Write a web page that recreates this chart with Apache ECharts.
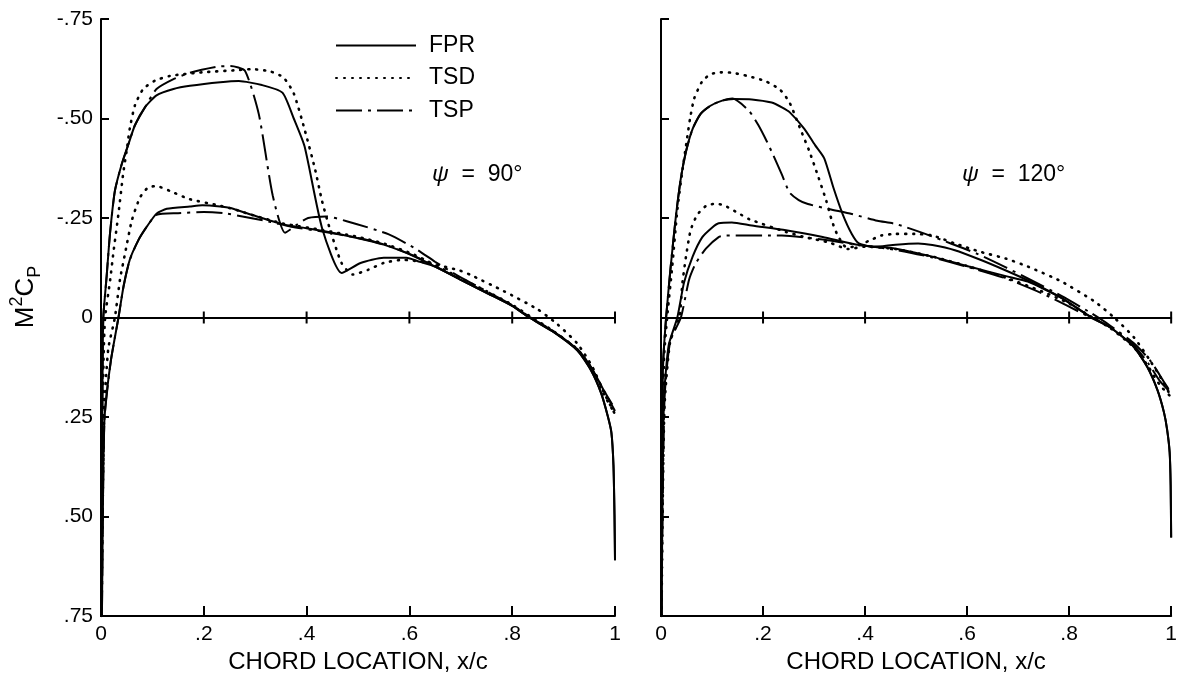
<!DOCTYPE html>
<html>
<head>
<meta charset="utf-8">
<script src="https://cdn.jsdelivr.net/npm/echarts@6/dist/echarts.min.js"></script>
<style>
  html, body { margin: 0; padding: 0; background: #fff; }
  #chart { width: 1180px; height: 679px; }
</style>
</head>
<body>
<div id="chart"></div>
<script>
// Tick values and their printed labels
const xTickValues = [0, 0.2, 0.4, 0.6, 0.8, 1];
const xTickLabels = ['0', '.2', '.4', '.6', '.8', '1'];
const yTickValues = [-0.75, -0.5, -0.25, 0, 0.25, 0.5, 0.75];
const yTickLabels = ['-.75', '-.50', '-.25', '0', '.25', '.50', '.75'];
const zeroLineTicks = [0.2, 0.4, 0.6, 0.8, 1];

const methods = ['FPR', 'TSD', 'TSP'];
const panelTitles = ['90°', '120°'];

// ψ = 90°  — pairs of [x/c, M²Cp]
const fpr90Upper = [
  [0.001, 0.75], [0.002, 0.40], [0.003, 0.15], [0.0045, 0], [0.011, -0.104], [0.0175, -0.211],
  [0.027, -0.318], [0.040, -0.384], [0.053, -0.434], [0.066, -0.483], [0.086, -0.529],
  [0.108, -0.558], [0.141, -0.574], [0.173, -0.582], [0.232, -0.591], [0.268, -0.594],
  [0.313, -0.584], [0.353, -0.565], [0.375, -0.50], [0.396, -0.43], [0.43, -0.225],
  [0.468, -0.112], [0.505, -0.137], [0.55, -0.15], [0.594, -0.15], [0.62, -0.14],
  [0.65, -0.128], [0.698, -0.096], [0.75, -0.062], [0.80, -0.029], [0.833, 0],
  [0.881, 0.037], [0.927, 0.083], [0.953, 0.132], [0.973, 0.19], [0.986, 0.248],
  [0.993, 0.289], [0.997, 0.371], [0.999, 0.495], [1.0, 0.61]
];
const fpr90Lower = [
  [0.001, 0.75], [0.002, 0.72], [0.004, 0.44], [0.007, 0.25], [0.019, 0.11], [0.034, 0],
  [0.044, -0.079], [0.056, -0.145], [0.073, -0.195], [0.089, -0.228], [0.108, -0.261],
  [0.128, -0.273], [0.173, -0.279], [0.197, -0.282], [0.232, -0.279], [0.252, -0.275],
  [0.293, -0.258], [0.355, -0.234], [0.43, -0.218], [0.498, -0.2], [0.55, -0.183],
  [0.609, -0.154], [0.65, -0.128], [0.698, -0.096], [0.75, -0.062], [0.80, -0.029],
  [0.833, 0], [0.881, 0.037], [0.927, 0.083], [0.953, 0.132], [0.973, 0.19],
  [0.986, 0.248], [0.993, 0.289], [0.997, 0.371], [0.999, 0.495], [1.0, 0.61]
];
const tsd90Upper = [
  [0.001, 0.75], [0.003, 0.30], [0.005, 0.10], [0.008, 0], [0.018, -0.096], [0.024, -0.162],
  [0.034, -0.261], [0.043, -0.36], [0.050, -0.42], [0.056, -0.475], [0.066, -0.533],
  [0.082, -0.574], [0.105, -0.595], [0.134, -0.607], [0.197, -0.616], [0.259, -0.621],
  [0.293, -0.624], [0.33, -0.618], [0.355, -0.603], [0.375, -0.563], [0.396, -0.473],
  [0.416, -0.375], [0.43, -0.293], [0.444, -0.228], [0.468, -0.137], [0.49, -0.108],
  [0.52, -0.12], [0.55, -0.137], [0.587, -0.145], [0.624, -0.14], [0.65, -0.133],
  [0.698, -0.118], [0.719, -0.107], [0.784, -0.066], [0.849, -0.021], [0.888, 0.017],
  [0.927, 0.066], [0.956, 0.124], [0.979, 0.19], [1.0, 0.243]
];
const tsd90Lower = [
  [0.001, 0.75], [0.003, 0.5], [0.006, 0.25], [0.014, 0.08], [0.027, 0], [0.037, -0.096],
  [0.047, -0.162], [0.06, -0.244], [0.076, -0.302], [0.092, -0.327], [0.108, -0.33],
  [0.134, -0.318], [0.173, -0.297], [0.225, -0.283], [0.259, -0.272], [0.293, -0.258],
  [0.355, -0.236], [0.43, -0.22], [0.498, -0.203], [0.55, -0.186], [0.609, -0.158],
  [0.698, -0.1], [0.75, -0.066], [0.80, -0.032], [0.835, -0.003], [0.88, 0.034],
  [0.927, 0.08], [0.955, 0.13], [0.977, 0.19], [1.0, 0.243]
];
const tsp90Upper = [
  [0.001, 0.75], [0.002, 0.40], [0.003, 0.15], [0.0045, 0], [0.011, -0.104], [0.0175, -0.211],
  [0.027, -0.318], [0.040, -0.384], [0.053, -0.434], [0.066, -0.483], [0.086, -0.529],
  [0.108, -0.574], [0.141, -0.599], [0.173, -0.615], [0.225, -0.63], [0.252, -0.632],
  [0.28, -0.62], [0.307, -0.511], [0.334, -0.307], [0.358, -0.213], [0.382, -0.234],
  [0.403, -0.25], [0.437, -0.254], [0.478, -0.242], [0.56, -0.209], [0.613, -0.172],
  [0.65, -0.14], [0.698, -0.102], [0.75, -0.066], [0.80, -0.031], [0.836, 0],
  [0.88, 0.034], [0.927, 0.08], [0.955, 0.128], [0.977, 0.18], [1.0, 0.235]
];
const tsp90Lower = [
  [0.001, 0.75], [0.002, 0.72], [0.004, 0.44], [0.007, 0.25], [0.019, 0.11], [0.034, 0],
  [0.044, -0.079], [0.056, -0.145], [0.073, -0.195], [0.089, -0.228], [0.108, -0.258],
  [0.15, -0.262], [0.2, -0.265], [0.239, -0.262], [0.283, -0.252], [0.33, -0.24],
  [0.37, -0.228], [0.43, -0.216], [0.5, -0.2], [0.55, -0.184], [0.609, -0.155],
  [0.698, -0.097], [0.75, -0.063], [0.80, -0.03], [0.834, 0], [0.88, 0.035],
  [0.927, 0.08], [0.955, 0.128], [0.977, 0.18], [1.0, 0.23]
];

// ψ = 120°
const fpr120Upper = [
  [0.001, 0.75], [0.002, 0.40], [0.004, 0.12], [0.010, 0], [0.019, -0.128], [0.029, -0.252],
  [0.039, -0.351], [0.049, -0.417], [0.062, -0.474], [0.078, -0.512], [0.097, -0.532],
  [0.12, -0.545], [0.143, -0.549], [0.178, -0.548], [0.217, -0.54], [0.237, -0.528],
  [0.252, -0.516], [0.281, -0.474], [0.302, -0.433], [0.32, -0.40], [0.338, -0.326],
  [0.356, -0.26], [0.374, -0.21], [0.388, -0.186], [0.417, -0.177], [0.46, -0.183],
  [0.504, -0.186], [0.532, -0.182], [0.576, -0.169], [0.626, -0.145], [0.676, -0.118],
  [0.719, -0.093], [0.784, -0.05], [0.839, -0.004], [0.881, 0.025], [0.927, 0.074],
  [0.953, 0.124], [0.973, 0.182], [0.986, 0.239], [0.992, 0.281], [0.997, 0.338],
  [0.999, 0.421], [1.0, 0.553]
];
const fpr120Lower = [
  [0.001, 0.75], [0.003, 0.45], [0.006, 0.2], [0.015, 0.07], [0.032, 0], [0.045, -0.087],
  [0.062, -0.153], [0.081, -0.202], [0.101, -0.227], [0.113, -0.237], [0.139, -0.239],
  [0.178, -0.231], [0.245, -0.219], [0.317, -0.202], [0.388, -0.182], [0.46, -0.173],
  [0.532, -0.153], [0.604, -0.128], [0.676, -0.104], [0.719, -0.09], [0.784, -0.05],
  [0.839, -0.004], [0.881, 0.025], [0.927, 0.074], [0.953, 0.124], [0.973, 0.182],
  [0.986, 0.239], [0.992, 0.281], [0.997, 0.338], [0.999, 0.421], [1.0, 0.553]
];
const tsd120Upper = [
  [0.001, 0.75], [0.003, 0.35], [0.006, 0.1], [0.012, 0], [0.022, -0.128], [0.032, -0.27],
  [0.042, -0.37], [0.05, -0.44], [0.057, -0.50], [0.065, -0.55], [0.081, -0.594],
  [0.097, -0.611], [0.117, -0.616], [0.139, -0.615], [0.172, -0.606], [0.204, -0.594],
  [0.233, -0.573], [0.252, -0.54], [0.273, -0.474], [0.291, -0.417], [0.309, -0.351],
  [0.324, -0.293], [0.335, -0.243], [0.345, -0.21], [0.363, -0.177], [0.38, -0.178],
  [0.41, -0.194], [0.432, -0.206], [0.46, -0.21], [0.496, -0.21], [0.532, -0.206],
  [0.576, -0.186], [0.626, -0.165], [0.676, -0.148], [0.719, -0.128], [0.784, -0.091],
  [0.849, -0.041], [0.888, 0], [0.927, 0.05], [0.958, 0.107], [0.986, 0.165], [1.0, 0.2]
];
const tsd120Lower = [
  [0.001, 0.75], [0.003, 0.5], [0.007, 0.22], [0.018, 0.06], [0.036, 0], [0.042, -0.087],
  [0.049, -0.153], [0.058, -0.219], [0.071, -0.258], [0.088, -0.28], [0.107, -0.286],
  [0.123, -0.282], [0.152, -0.262], [0.173, -0.247], [0.245, -0.215], [0.288, -0.2],
  [0.331, -0.188], [0.367, -0.172], [0.40, -0.178], [0.46, -0.172], [0.532, -0.153],
  [0.604, -0.128], [0.676, -0.1], [0.748, -0.065], [0.80, -0.035], [0.842, -0.003],
  [0.881, 0.027], [0.927, 0.075], [0.955, 0.123], [0.978, 0.17], [1.0, 0.2]
];
const tsp120Upper = [
  [0.001, 0.75], [0.002, 0.40], [0.004, 0.12], [0.010, 0], [0.019, -0.128], [0.029, -0.252],
  [0.039, -0.351], [0.049, -0.417], [0.062, -0.474], [0.078, -0.512], [0.097, -0.532],
  [0.12, -0.545], [0.14, -0.55], [0.172, -0.52], [0.191, -0.483], [0.208, -0.441],
  [0.22, -0.408], [0.237, -0.359], [0.252, -0.314], [0.27, -0.295], [0.288, -0.285],
  [0.331, -0.272], [0.374, -0.26], [0.424, -0.243], [0.46, -0.235], [0.518, -0.21],
  [0.568, -0.186], [0.62, -0.16], [0.676, -0.126], [0.719, -0.098], [0.784, -0.055],
  [0.842, -0.012], [0.88, 0.02], [0.927, 0.065], [0.96, 0.11], [0.985, 0.16], [1.0, 0.19]
];
const tsp120Lower = [
  [0.001, 0.75], [0.003, 0.5], [0.007, 0.2], [0.018, 0.06], [0.039, 0], [0.055, -0.095],
  [0.068, -0.136], [0.088, -0.173], [0.113, -0.202], [0.126, -0.206], [0.237, -0.206],
  [0.317, -0.196], [0.388, -0.182], [0.46, -0.17], [0.532, -0.151], [0.604, -0.126],
  [0.676, -0.098], [0.748, -0.06], [0.842, 0], [0.881, 0.025], [0.927, 0.07],
  [0.955, 0.115], [0.978, 0.16], [1.0, 0.19]
];

const FONT = '"Liberation Sans", Arial, Helvetica, sans-serif';
const INK = '#000';

const lineLooks = {
  FPR: { type: 'solid', width: 2 },
  TSD: { type: [1, 7], width: 2.6, cap: 'round' },
  TSP: { type: [26, 6, 3, 6], width: 2 }
};

function labelFor(values, labels, v) {
  for (let i = 0; i < values.length; i++) {
    if (Math.abs(values[i] - v) < 1e-6) return labels[i];
  }
  return '';
}

function curve(name, data, panel) {
  return {
    type: 'line',
    name: name,
    data: data,
    xAxisIndex: panel * 2,
    yAxisIndex: panel,
    symbol: 'none',
    smooth: 0.2,
    animation: false,
    lineStyle: Object.assign({ color: INK }, lineLooks[name]),
    itemStyle: { color: INK },
    z: 3
  };
}

// Cross ticks along the zero line, placed through the axes' own scale
function zeroTicks(panel) {
  return {
    type: 'custom',
    xAxisIndex: panel * 2,
    yAxisIndex: panel,
    silent: true,
    animation: false,
    clip: false,
    data: zeroLineTicks.map(t => [t, 0]),
    renderItem: function (params, api) {
      const p = api.coord([api.value(0), api.value(1)]);
      return {
        type: 'line',
        shape: { x1: p[0], y1: p[1] - 6, x2: p[0], y2: p[1] + 6 },
        style: { stroke: INK, lineWidth: 2 }
      };
    },
    z: 4
  };
}

const grids = [
  { left: 101, top: 19, width: 514, height: 600 },
  { left: 661, top: 19, width: 514, height: 600 }
];

const xAxes = [];
const yAxes = [];
grids.forEach((g, i) => {
  xAxes.push({
    gridIndex: i, type: 'value', min: 0, max: 1, interval: 0.2, position: 'bottom',
    axisLine: { onZero: false, lineStyle: { color: INK, width: 2 } },
    axisTick: { inside: true, length: 10, lineStyle: { color: INK, width: 2 } },
    axisLabel: {
      color: INK, fontSize: 21, fontFamily: FONT, margin: 8,
      formatter: v => labelFor(xTickValues, xTickLabels, v)
    },
    splitLine: { show: false },
    name: 'CHORD LOCATION, x/c', nameLocation: 'middle', nameGap: 34,
    nameTextStyle: { color: INK, fontSize: 24, fontFamily: FONT }
  });
  xAxes.push({
    gridIndex: i, type: 'value', min: 0, max: 1, position: 'bottom',
    axisLine: { onZero: true, lineStyle: { color: INK, width: 2 } },
    axisTick: { show: false }, axisLabel: { show: false }, splitLine: { show: false }
  });
  yAxes.push({
    gridIndex: i, type: 'value', inverse: true, min: -0.75, max: 0.75, interval: 0.25,
    axisLine: { show: true, onZero: false, lineStyle: { color: INK, width: 2 } },
    axisTick: { show: true, inside: true, length: 8, lineStyle: { color: INK, width: 2 } },
    axisLabel: {
      show: i === 0, color: INK, fontSize: 21, fontFamily: FONT, margin: 8,
      formatter: v => labelFor(yTickValues, yTickLabels, v)
    },
    splitLine: { show: false }
  });
});

const series = [
  curve('FPR', fpr90Upper, 0), curve('FPR', fpr90Lower, 0),
  curve('TSD', tsd90Upper, 0), curve('TSD', tsd90Lower, 0),
  curve('TSP', tsp90Upper, 0), curve('TSP', tsp90Lower, 0),
  curve('FPR', fpr120Upper, 1), curve('FPR', fpr120Lower, 1),
  curve('TSD', tsd120Upper, 1), curve('TSD', tsd120Lower, 1),
  curve('TSP', tsp120Upper, 1), curve('TSP', tsp120Lower, 1),
  zeroTicks(0), zeroTicks(1)
];

const chart = echarts.init(document.getElementById('chart'), null, { renderer: 'canvas' });
chart.setOption({
  backgroundColor: '#fff',
  animation: false,
  textStyle: { fontFamily: FONT, color: INK },
  grid: grids,
  xAxis: xAxes,
  yAxis: yAxes,
  legend: {
    data: methods,
    orient: 'vertical',
    left: 335, top: 34,
    itemWidth: 80, itemHeight: 14, itemGap: 9.5,
    padding: 0,
    selectedMode: false,
    itemStyle: { opacity: 0 },
    textStyle: { color: INK, fontSize: 23, fontFamily: FONT, lineHeight: 23, padding: [0, 0, 0, 8] }
  },
  graphic: [
    {
      type: 'text', x: 26, y: 297, rotation: Math.PI / 2,
      style: {
        text: '{a|M}{b|2}{a|C}{c|P}',
        align: 'center', verticalAlign: 'middle', fill: INK,
        rich: {
          a: { fontSize: 26, fontFamily: FONT, lineHeight: 36, fill: INK },
          b: { fontSize: 18, fontFamily: FONT, lineHeight: 36, verticalAlign: 'top', fill: INK },
          c: { fontSize: 18, fontFamily: FONT, lineHeight: 36, verticalAlign: 'bottom', fill: INK }
        }
      }
    },
    {
      type: 'text', x: 432, y: 175,
      style: {
        text: '{g|ψ}  =  ' + panelTitles[0], fill: INK, verticalAlign: 'middle',
        fontSize: 23, fontFamily: FONT,
        rich: { g: { fontSize: 23, fontFamily: FONT, fontStyle: 'italic', fill: INK } }
      }
    },
    {
      type: 'text', x: 962, y: 175,
      style: {
        text: '{g|ψ}  =  ' + panelTitles[1], fill: INK, verticalAlign: 'middle',
        fontSize: 23, fontFamily: FONT,
        rich: { g: { fontSize: 23, fontFamily: FONT, fontStyle: 'italic', fill: INK } }
      }
    }
  ],
  series: series
});
</script>
</body>
</html>
